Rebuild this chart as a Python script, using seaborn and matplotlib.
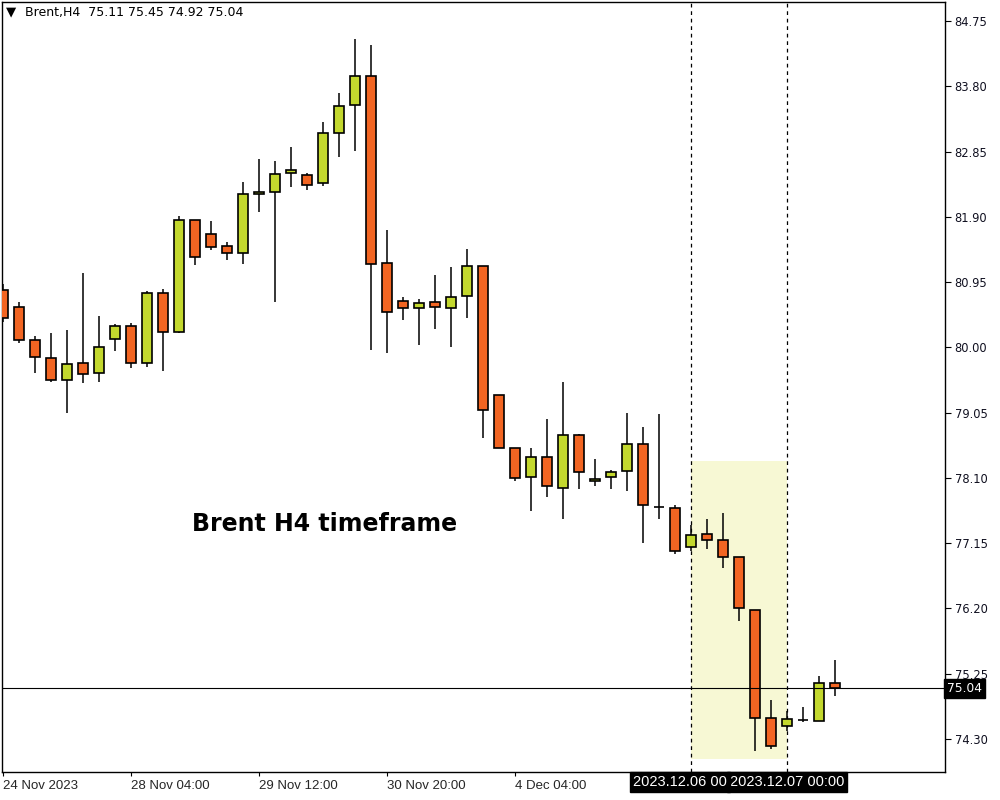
import seaborn as sns
import matplotlib.pyplot as plt
import matplotlib.transforms as mtransforms
import numpy as np
import pandas as pd

# Brent H4 bars
opens = [80.84, 80.59, 80.11, 79.85, 79.53, 79.77, 79.63, 80.12, 80.31, 79.77,
         80.79, 80.22, 81.85, 81.65, 81.48, 81.37, 82.23, 82.26, 82.54, 82.51,
         82.39, 83.12, 83.53, 83.95, 81.23, 80.68, 80.57, 80.66, 80.57, 80.75,
         81.18, 79.31, 78.54, 78.11, 78.40, 77.95, 78.72, 78.06, 78.11, 78.20,
         78.59, 77.68, 77.66, 77.09, 77.28, 77.20, 76.95, 76.18, 74.61, 74.49,
         74.58, 74.56, 75.11]
highs = [80.92, 80.66, 80.17, 80.21, 80.25, 81.08, 80.46, 80.34, 80.35, 80.82,
         80.85, 81.91, 81.86, 81.84, 81.53, 82.41, 82.74, 82.71, 82.92, 82.54,
         83.28, 83.70, 84.49, 84.40, 81.71, 80.73, 80.70, 81.05, 81.17, 81.43,
         81.19, 79.31, 78.54, 78.54, 78.96, 79.50, 78.74, 78.38, 78.22, 79.04,
         78.84, 79.03, 77.71, 77.41, 77.50, 77.59, 76.95, 76.18, 74.87, 74.71,
         74.77, 75.22, 75.45]
lows = [80.37, 80.06, 79.63, 79.50, 79.04, 79.48, 79.50, 79.95, 79.70, 79.71,
        79.66, 80.21, 81.20, 81.42, 81.27, 81.21, 81.97, 80.66, 82.33, 82.29,
        82.35, 82.77, 82.86, 79.96, 79.92, 80.40, 80.03, 80.27, 80.01, 80.43,
        78.68, 78.54, 78.06, 77.62, 77.82, 77.50, 77.94, 77.98, 77.94, 77.91,
        77.15, 77.50, 76.99, 77.04, 77.07, 76.79, 76.02, 74.13, 74.16, 74.42,
        74.55, 74.56, 74.92]
closes = [80.43, 80.11, 79.86, 79.53, 79.76, 79.61, 80.01, 80.31, 79.77, 80.79,
          80.22, 81.85, 81.32, 81.46, 81.37, 82.23, 82.26, 82.52, 82.58, 82.36,
          83.12, 83.51, 83.95, 81.21, 80.52, 80.57, 80.65, 80.59, 80.73, 81.18,
          79.09, 78.54, 78.10, 78.40, 77.98, 78.72, 78.19, 78.08, 78.19, 78.59,
          77.71, 77.68, 77.04, 77.27, 77.20, 76.95, 76.21, 74.61, 74.20, 74.59,
          74.58, 75.12, 75.04]

time_ticks = [0, 8, 16, 24, 32, 40]
time_labels = ["24 Nov 2023", "28 Nov 04:00", "29 Nov 12:00", "30 Nov 20:00", "4 Dec 04:00", ""]
price_ticks = [74.30, 75.25, 76.20, 77.15, 78.10, 79.05, 80.00, 80.95, 81.90, 82.85, 83.80, 84.75]
vline_bars = [43, 49]
# first marker label is cut off by the second one in the original
vline_labels = ["2023.12.06 00", "2023.12.07 00:00"]
zone_bars = [43, 49]
zone_prices = [74.01, 78.35]
last_price = 75.04
header = "Brent,H4  75.11 75.45 74.92 75.04"

df = pd.DataFrame({"open": opens, "high": highs, "low": lows, "close": closes})
df["bar"] = np.arange(len(df))
df["bull"] = df["close"] >= df["open"]

sns.set_theme(style="white")
plt.rcParams["font.family"] = ["DejaVu Sans"]

bull_col = "#C3D82E"
bear_col = "#F26522"

fig = plt.figure(figsize=(10, 8), dpi=100)
ax = fig.add_axes([0.002, 0.035, 0.943, 0.9625])

# highlighted zone and vertical markers
ax.fill_between(zone_bars, zone_prices[0], zone_prices[1], color="#F7F8D4", lw=0, zorder=0)
for b in vline_bars:
    ax.axvline(b, color="black", lw=0.9, ls=(0, (3, 3)), zorder=1)

# candles
ax.vlines(df["bar"], df["low"], df["high"], color="black", lw=1.1, zorder=2)
body_lo = df[["open", "close"]].min(axis=1)
body_h = (df["open"] - df["close"]).abs()
ax.bar(df["bar"], body_h, bottom=body_lo, width=0.62,
       color=np.where(df["bull"], bull_col, bear_col),
       edgecolor="black", linewidth=1.2, zorder=3)

ax.axhline(last_price, color="black", lw=0.8, zorder=4)

ax.set_xlim(-0.06, 58.875)
ax.set_ylim(73.82, 85.027)

for s in ax.spines.values():
    s.set_color("black")
    s.set_linewidth(1.0)

ax.yaxis.tick_right()
ax.set_yticks(price_ticks)
ax.set_yticklabels([f"{p:.2f}" for p in price_ticks], fontsize=8.3, color="#101020")
ax.tick_params(axis="y", direction="out", length=4, width=0.8, color="black", pad=3, right=True, left=False)
ax.set_xticks(time_ticks)
ax.set_xticklabels(time_labels, fontsize=9.5, family="Liberation Sans", ha="left")
ax.tick_params(axis="x", direction="out", length=3, width=0.8, color="black", pad=3, bottom=True)
ax.set_xlabel("")
ax.set_ylabel("")
ax.grid(False)

# labels of vertical markers on time axis
tb = mtransforms.blended_transform_factory(ax.transData, ax.transAxes)
box = dict(boxstyle="square,pad=0.2", fc="black", ec="black")
ax.text(vline_bars[1], -0.004, vline_labels[1], transform=tb, ha="center", va="top",
        fontsize=10.5, family="Liberation Sans", color="white", zorder=5, bbox=box, clip_on=False)
ax.text(vline_bars[0] - 3.6, -0.004, vline_labels[0], transform=tb, ha="left", va="top",
        fontsize=10.5, family="Liberation Sans", color="white", zorder=6, bbox=box, clip_on=False)

# last price label on price axis
tp = mtransforms.blended_transform_factory(ax.transAxes, ax.transData)
ax.text(1.002, last_price, f"{last_price:.2f}", transform=tp, ha="left", va="center",
        fontsize=8.8, color="white", zorder=6,
        bbox=dict(boxstyle="square,pad=0.25", fc="black", ec="black"), clip_on=False)

# header and annotation
ax.text(0.004, 0.9865, "\u25bc", transform=ax.transAxes, fontsize=9.5, va="center", ha="left", color="black")
ax.text(0.024, 0.9865, header, transform=ax.transAxes, fontsize=9.0, va="center", ha="left", color="black")
ax.text(11.8, 77.43, "Brent H4 timeframe", fontsize=17, fontweight="bold",
        family="DejaVu Sans", va="center", ha="left", color="black")

plt.savefig("out.png", dpi=100, facecolor="white")
